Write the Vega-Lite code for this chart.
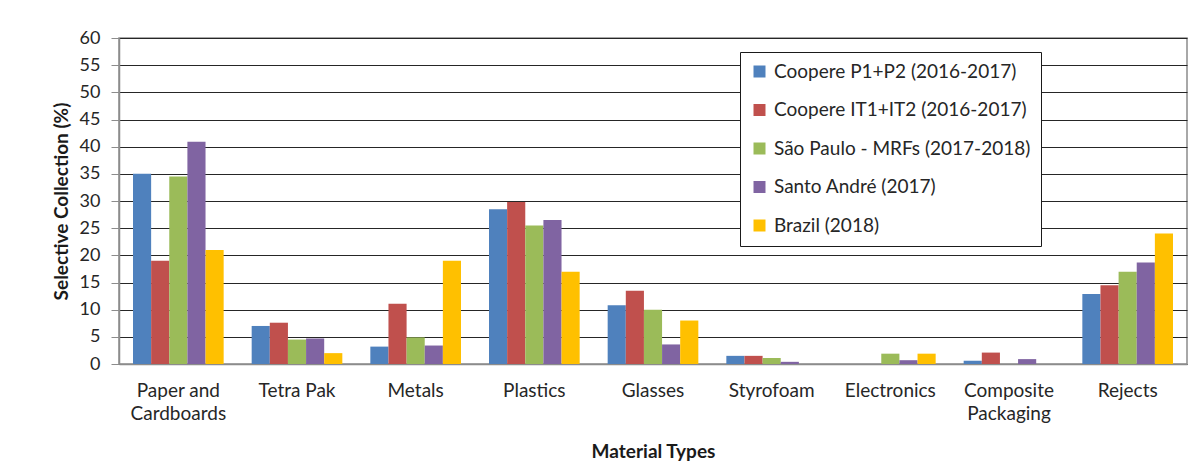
{
  "$schema": "https://vega.github.io/schema/vega-lite/v6.json",
  "autosize": {"type": "none"},
  "width": 1068,
  "height": 326,
  "padding": {"left": 119, "top": 38, "right": 17, "bottom": 102},
  "background": "#ffffff",
  "data": {
    "values": [
      {"material": "Paper and Cardboards", "source": "Coopere P1+P2 (2016-2017)", "value": 35.0},
      {"material": "Paper and Cardboards", "source": "Coopere IT1+IT2 (2016-2017)", "value": 19.0},
      {"material": "Paper and Cardboards", "source": "São Paulo - MRFs (2017-2018)", "value": 34.5},
      {"material": "Paper and Cardboards", "source": "Santo André (2017)", "value": 40.9},
      {"material": "Paper and Cardboards", "source": "Brazil (2018)", "value": 21.0},
      {"material": "Tetra Pak", "source": "Coopere P1+P2 (2016-2017)", "value": 7.0},
      {"material": "Tetra Pak", "source": "Coopere IT1+IT2 (2016-2017)", "value": 7.6},
      {"material": "Tetra Pak", "source": "São Paulo - MRFs (2017-2018)", "value": 4.5},
      {"material": "Tetra Pak", "source": "Santo André (2017)", "value": 4.7},
      {"material": "Tetra Pak", "source": "Brazil (2018)", "value": 2.0},
      {"material": "Metals", "source": "Coopere P1+P2 (2016-2017)", "value": 3.2},
      {"material": "Metals", "source": "Coopere IT1+IT2 (2016-2017)", "value": 11.1},
      {"material": "Metals", "source": "São Paulo - MRFs (2017-2018)", "value": 4.9},
      {"material": "Metals", "source": "Santo André (2017)", "value": 3.4},
      {"material": "Metals", "source": "Brazil (2018)", "value": 19.0},
      {"material": "Plastics", "source": "Coopere P1+P2 (2016-2017)", "value": 28.5},
      {"material": "Plastics", "source": "Coopere IT1+IT2 (2016-2017)", "value": 29.8},
      {"material": "Plastics", "source": "São Paulo - MRFs (2017-2018)", "value": 25.5},
      {"material": "Plastics", "source": "Santo André (2017)", "value": 26.5},
      {"material": "Plastics", "source": "Brazil (2018)", "value": 17.0},
      {"material": "Glasses", "source": "Coopere P1+P2 (2016-2017)", "value": 10.8},
      {"material": "Glasses", "source": "Coopere IT1+IT2 (2016-2017)", "value": 13.5},
      {"material": "Glasses", "source": "São Paulo - MRFs (2017-2018)", "value": 10.0},
      {"material": "Glasses", "source": "Santo André (2017)", "value": 3.6},
      {"material": "Glasses", "source": "Brazil (2018)", "value": 8.0},
      {"material": "Styrofoam", "source": "Coopere P1+P2 (2016-2017)", "value": 1.5},
      {"material": "Styrofoam", "source": "Coopere IT1+IT2 (2016-2017)", "value": 1.5},
      {"material": "Styrofoam", "source": "São Paulo - MRFs (2017-2018)", "value": 1.1},
      {"material": "Styrofoam", "source": "Santo André (2017)", "value": 0.4},
      {"material": "Styrofoam", "source": "Brazil (2018)", "value": 0},
      {"material": "Electronics", "source": "Coopere P1+P2 (2016-2017)", "value": 0},
      {"material": "Electronics", "source": "Coopere IT1+IT2 (2016-2017)", "value": 0},
      {"material": "Electronics", "source": "São Paulo - MRFs (2017-2018)", "value": 1.9},
      {"material": "Electronics", "source": "Santo André (2017)", "value": 0.7},
      {"material": "Electronics", "source": "Brazil (2018)", "value": 1.9},
      {"material": "Composite Packaging", "source": "Coopere P1+P2 (2016-2017)", "value": 0.6},
      {"material": "Composite Packaging", "source": "Coopere IT1+IT2 (2016-2017)", "value": 2.1},
      {"material": "Composite Packaging", "source": "São Paulo - MRFs (2017-2018)", "value": 0},
      {"material": "Composite Packaging", "source": "Santo André (2017)", "value": 0.9},
      {"material": "Composite Packaging", "source": "Brazil (2018)", "value": 0},
      {"material": "Rejects", "source": "Coopere P1+P2 (2016-2017)", "value": 12.9},
      {"material": "Rejects", "source": "Coopere IT1+IT2 (2016-2017)", "value": 14.5},
      {"material": "Rejects", "source": "São Paulo - MRFs (2017-2018)", "value": 17.0},
      {"material": "Rejects", "source": "Santo André (2017)", "value": 18.7},
      {"material": "Rejects", "source": "Brazil (2018)", "value": 24.0}
    ]
  },
  "mark": {"type": "bar"},
  "encoding": {
    "x": {
      "field": "material",
      "type": "nominal",
      "sort": null,
      "scale": {"paddingInner": 0.236, "paddingOuter": 0.118},
      "axis": {
        "title": "Material Types",
        "titleFont": "Lato",
        "titleFontSize": 19,
        "titleFontWeight": "bold",
        "titleColor": "#1a1a1a",
        "titlePadding": 19,
        "labelAngle": 0,
        "labelFont": "Lato",
        "labelFontSize": 19,
        "labelColor": "#262626",
        "labelPadding": 17,
        "labelLineHeight": 23,
        "labelExpr": "datum.label == 'Paper and Cardboards' ? ['Paper and', 'Cardboards'] : datum.label == 'Composite Packaging' ? ['Composite', 'Packaging'] : datum.label",
        "ticks": false,
        "domainColor": "#8c8c8c",
        "domainWidth": 1.5
      }
    },
    "xOffset": {
      "field": "source",
      "type": "nominal",
      "sort": null,
      "scale": {"paddingInner": 0, "paddingOuter": 0}
    },
    "y": {
      "field": "value",
      "type": "quantitative",
      "scale": {"domain": [0, 60], "nice": false},
      "axis": {
        "title": "Selective Collection (%)",
        "titleFont": "Lato",
        "titleFontSize": 19,
        "titleFontWeight": "bold",
        "titleColor": "#1a1a1a",
        "titlePadding": 8,
        "values": [0, 5, 10, 15, 20, 25, 30, 35, 40, 45, 50, 55, 60],
        "labelFont": "Lato",
        "labelFontSize": 18,
        "labelColor": "#262626",
        "labelPadding": 11,
        "tickSize": 8,
        "tickColor": "#8c8c8c",
        "domainColor": "#8c8c8c",
        "domainWidth": 1.5,
        "grid": true,
        "gridColor": "#262626",
        "gridWidth": 1
      }
    },
    "color": {
      "field": "source",
      "type": "nominal",
      "sort": null,
      "scale": {
        "domain": ["Coopere P1+P2 (2016-2017)", "Coopere IT1+IT2 (2016-2017)", "São Paulo - MRFs (2017-2018)", "Santo André (2017)", "Brazil (2018)"],
        "range": ["#4f81bd", "#c0504d", "#9bbb59", "#8064a2", "#ffc000"]
      },
      "legend": {
        "title": null,
        "orient": "none",
        "legendX": 621,
        "legendY": 14,
        "symbolType": "square",
        "symbolSize": 144,
        "symbolStrokeWidth": 0,
        "labelFont": "Lato",
        "labelFontSize": 19,
        "labelColor": "#262626",
        "labelLimit": 400,
        "labelOffset": 5,
        "rowPadding": 18.5,
        "padding": 10,
        "strokeColor": "#1a1a1a",
        "fillColor": "#ffffff"
      }
    }
  },
  "config": {
    "view": {"stroke": "#8c8c8c", "strokeWidth": 1.5},
    "font": "Lato"
  }
}
